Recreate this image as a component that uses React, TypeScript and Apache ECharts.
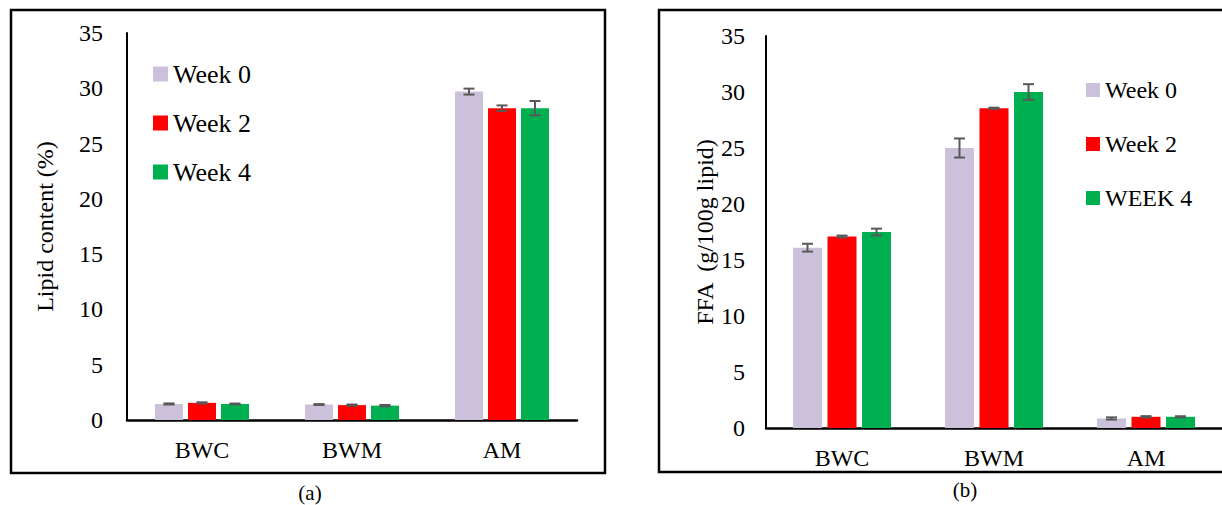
import React, { useEffect, useRef } from "react";
import * as echarts from "echarts";

const categories = ["BWC", "BWM", "AM"];

const lipidWeek0 = [1.45, 1.4, 29.7];
const lipidWeek2 = [1.55, 1.35, 28.2];
const lipidWeek4 = [1.45, 1.3, 28.2];
const lipidErr0 = [0.05, 0.04, 0.27];
const lipidErr2 = [0.05, 0.05, 0.25];
const lipidErr4 = [0.04, 0.06, 0.65];

const ffaWeek0 = [16.1, 25.0, 0.85];
const ffaWeek2 = [17.1, 28.55, 1.0];
const ffaWeek4 = [17.5, 30.0, 1.0];
const ffaErr0 = [0.35, 0.85, 0.1];
const ffaErr2 = [0.08, 0.05, 0.06];
const ffaErr4 = [0.3, 0.7, 0.05];

const yTicks = [0, 5, 10, 15, 20, 25, 30, 35];

const leftNames = ["Week 0", "Week 2", "Week 4"];
const rightNames = ["Week 0", "Week 2", "WEEK 4"];
const colors = ["#CCC1DA", "#FF0000", "#00B050"];

const FONT = "'Liberation Serif', 'Times New Roman', serif";

function errSeries(gridIdx: number, vals: number[][], errs: number[][], barW: number, gap: number) {
  const data: number[][] = [];
  vals.forEach((arr, s) => arr.forEach((v, c) => data.push([c, v, errs[s][c], s])));
  return {
    type: "custom",
    xAxisIndex: gridIdx,
    yAxisIndex: gridIdx,
    z: 10,
    silent: true,
    encode: { x: 0, y: 1 },
    data,
    renderItem: (params: any, api: any) => {
      const c = api.value(0);
      const v = api.value(1);
      const e = api.value(2);
      const s = api.value(3);
      const x = api.coord([c, v])[0] + (s - 1) * (barW + gap);
      const yt = api.coord([c, v + e])[1];
      const yb = api.coord([c, v - e])[1];
      const hw = 5.5;
      const style = { stroke: "#595959", lineWidth: 2 };
      return {
        type: "group",
        children: [
          { type: "line", shape: { x1: x, y1: yt, x2: x, y2: yb }, style },
          { type: "line", shape: { x1: x - hw, y1: yt, x2: x + hw, y2: yt }, style },
          { type: "line", shape: { x1: x - hw, y1: yb, x2: x + hw, y2: yb }, style },
        ],
      };
    },
  };
}

export default function App() {
  const ref = useRef<HTMLDivElement>(null);
  useEffect(() => {
    if (!ref.current) return;
    const chart = echarts.init(ref.current, null, { renderer: "svg" });
    const mkY = (idx: number, name: string, gap: number, margin: number) => ({
      type: "value",
      gridIndex: idx,
      min: 0,
      max: 35,
      interval: 5,
      name,
      nameLocation: "middle",
      nameGap: gap,
      nameTextStyle: { fontFamily: FONT, fontSize: 24, color: "#000" },
      axisLine: { show: true, lineStyle: { color: "#000", width: 2 } },
      axisTick: { show: false },
      splitLine: { show: false },
      axisLabel: {
        fontFamily: FONT,
        fontSize: 24,
        color: "#000",
        margin,
        formatter: (v: number) => (yTicks.includes(v) ? String(v) : ""),
      },
    });
    const mkX = (idx: number) => ({
      type: "category",
      gridIndex: idx,
      data: categories,
      axisLine: { show: true, lineStyle: { color: "#000", width: 2.5 } },
      axisTick: { show: false },
      axisLabel: { fontFamily: FONT, fontSize: 24, color: "#000", margin: 18 },
    });
    const leftVals = [lipidWeek0, lipidWeek2, lipidWeek4];
    const leftErrs = [lipidErr0, lipidErr2, lipidErr4];
    const rightVals = [ffaWeek0, ffaWeek2, ffaWeek4];
    const rightErrs = [ffaErr0, ffaErr2, ffaErr4];
    const LBW = 28, LG = 5, RBW = 29, RG = 5.5;
    const series: any[] = [];
    leftVals.forEach((vals, i) =>
      series.push({
        type: "bar",
        name: leftNames[i],
        xAxisIndex: 0,
        yAxisIndex: 0,
        barWidth: LBW,
        barGap: (LG / LBW) * 100 + "%",
        itemStyle: { color: colors[i] },
        data: vals,
      })
    );
    rightVals.forEach((vals, i) =>
      series.push({
        type: "bar",
        name: rightNames[i],
        xAxisIndex: 1,
        yAxisIndex: 1,
        barWidth: RBW,
        barGap: (RG / RBW) * 100 + "%",
        itemStyle: { color: colors[i] },
        data: vals,
      })
    );
    series.push(errSeries(0, leftVals, leftErrs, LBW, LG));
    series.push(errSeries(1, rightVals, rightErrs, RBW, RG));

    chart.setOption({
      animation: false,
      backgroundColor: "#fff",
      grid: [
        { left: 127, top: 33, width: 450, height: 387 },
        { left: 766, top: 36, width: 465, height: 392 },
      ],
      xAxis: [mkX(0), mkX(1)],
      yAxis: [mkY(0, "Lipid content (%)", 70, 24), mkY(1, "FFA  (g/100g lipid)", 44, 21)],
      legend: [
        {
          orient: "vertical",
          left: 153,
          top: 61,
          padding: 0,
          itemWidth: 15,
          itemHeight: 15,
          itemGap: 23,
          icon: "rect",
          selectedMode: false,
          textStyle: { fontFamily: FONT, fontSize: 26, color: "#000" },
          data: leftNames,
        },
        {
          orient: "vertical",
          left: 1086,
          top: 78,
          padding: 0,
          itemWidth: 14,
          itemHeight: 14,
          itemGap: 30,
          icon: "rect",
          selectedMode: false,
          textStyle: { fontFamily: FONT, fontSize: 24, color: "#000" },
          data: rightNames,
        },
      ],
      graphic: [
        { type: "rect", shape: { x: 11, y: 10, width: 594, height: 463 }, style: { fill: "none", stroke: "#000", lineWidth: 2.5 }, z: 100 },
        { type: "rect", shape: { x: 659, y: 10, width: 620, height: 462 }, style: { fill: "none", stroke: "#000", lineWidth: 2.5 }, z: 100 },
        { type: "text", x: 310, y: 493, style: { text: "(a)", fontFamily: FONT, fontSize: 21, fill: "#000", textAlign: "center", textVerticalAlign: "middle" } },
        { type: "text", x: 965, y: 490, style: { text: "(b)", fontFamily: FONT, fontSize: 21, fill: "#000", textAlign: "center", textVerticalAlign: "middle" } },
      ],
      series,
    });
    return () => chart.dispose();
  }, []);
  return (
    <div style={{ position: "fixed", left: 0, top: 0, width: 1222, height: 505, overflow: "hidden", background: "#fff" }}>
      <div ref={ref} style={{ width: 1222, height: 505 }} />
    </div>
  );
}
